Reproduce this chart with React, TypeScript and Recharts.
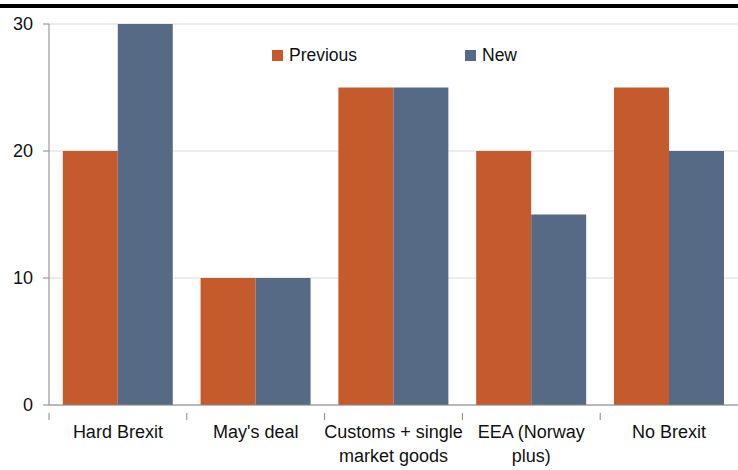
import React from "react";
import {
  BarChart,
  Bar,
  XAxis,
  YAxis,
  CartesianGrid,
} from "recharts";

const categories = [
  "Hard Brexit",
  "May's deal",
  "Customs + single\nmarket goods",
  "EEA (Norway\nplus)",
  "No Brexit",
];
const previousValues = [20, 10, 25, 20, 25];
const newValues = [30, 10, 25, 15, 20];
const yTicks = [0, 10, 20, 30];

const ORANGE = "#C55A2C";
const BLUE = "#566A85";
const AXIS = "#868686";
const FONT = "'Liberation Sans', Arial, sans-serif";

const data = categories.map((name, i) => ({
  name,
  previous: previousValues[i],
  next: newValues[i],
}));

// label centred on the band, tick mark on the band's left edge (Excel style)
const CategoryTick = (props: any) => {
  const { x, y, payload, width, visibleTicksCount } = props;
  const band = (width || 689) / (visibleTicksCount || categories.length);
  const left = x - band / 2;
  const lines = String(payload.value).split("\n");
  return (
    <g>
      <line x1={left} x2={left} y1={y} y2={y + 7} stroke={AXIS} />
      <text
        x={x}
        y={y + 25}
        textAnchor="middle"
        fontSize={18}
        fontFamily={FONT}
        fill="#111"
      >
        {lines.map((line, i) => (
          <tspan key={i} x={x} dy={i === 0 ? 0 : 24}>
            {line}
          </tspan>
        ))}
      </text>
    </g>
  );
};

export default function App() {
  return (
    <div
      style={{
        position: "absolute",
        top: 0,
        left: 0,
        width: 738,
        height: 470,
        background: "#fff",
      }}
    >
      {/* top rule */}
      <div
        style={{
          position: "absolute",
          top: 4,
          left: 0,
          width: 738,
          height: 4,
          background: "#000",
        }}
      />
      {/* legend, sits inside the plot */}
      <div
        style={{
          position: "absolute",
          top: 45,
          left: 272,
          display: "flex",
          fontFamily: FONT,
          fontSize: 17.5,
          color: "#111",
          zIndex: 2,
        }}
      >
        <div style={{ display: "flex", alignItems: "center", width: 193 }}>
          <span style={{ width: 11, height: 11, background: ORANGE, marginRight: 6 }} />
          Previous
        </div>
        <div style={{ display: "flex", alignItems: "center" }}>
          <span style={{ width: 11, height: 11, background: BLUE, marginRight: 6 }} />
          New
        </div>
      </div>
      <BarChart
        width={738}
        height={470}
        data={data}
        margin={{ top: 24, right: 0, bottom: 0, left: 0 }}
        barCategoryGap="10%"
        barGap={0}
      >
        <CartesianGrid stroke="#d9d9d9" vertical={false} />
        <XAxis
          dataKey="name"
          interval={0}
          height={65}
          tick={<CategoryTick />}
          tickLine={false}
          axisLine={{ stroke: AXIS }}
          scale="band"
        />
        <YAxis
          width={49}
          domain={[0, 30]}
          ticks={yTicks}
          tick={{ fontSize: 18, fill: "#111", fontFamily: FONT }}
          tickLine={{ stroke: AXIS }}
          axisLine={{ stroke: AXIS }}
          tickSize={6}
          tickMargin={10}
        />
        <Bar dataKey="previous" name="Previous" fill={ORANGE} isAnimationActive={false} />
        <Bar dataKey="next" name="New" fill={BLUE} isAnimationActive={false} />
      </BarChart>
    </div>
  );
}
